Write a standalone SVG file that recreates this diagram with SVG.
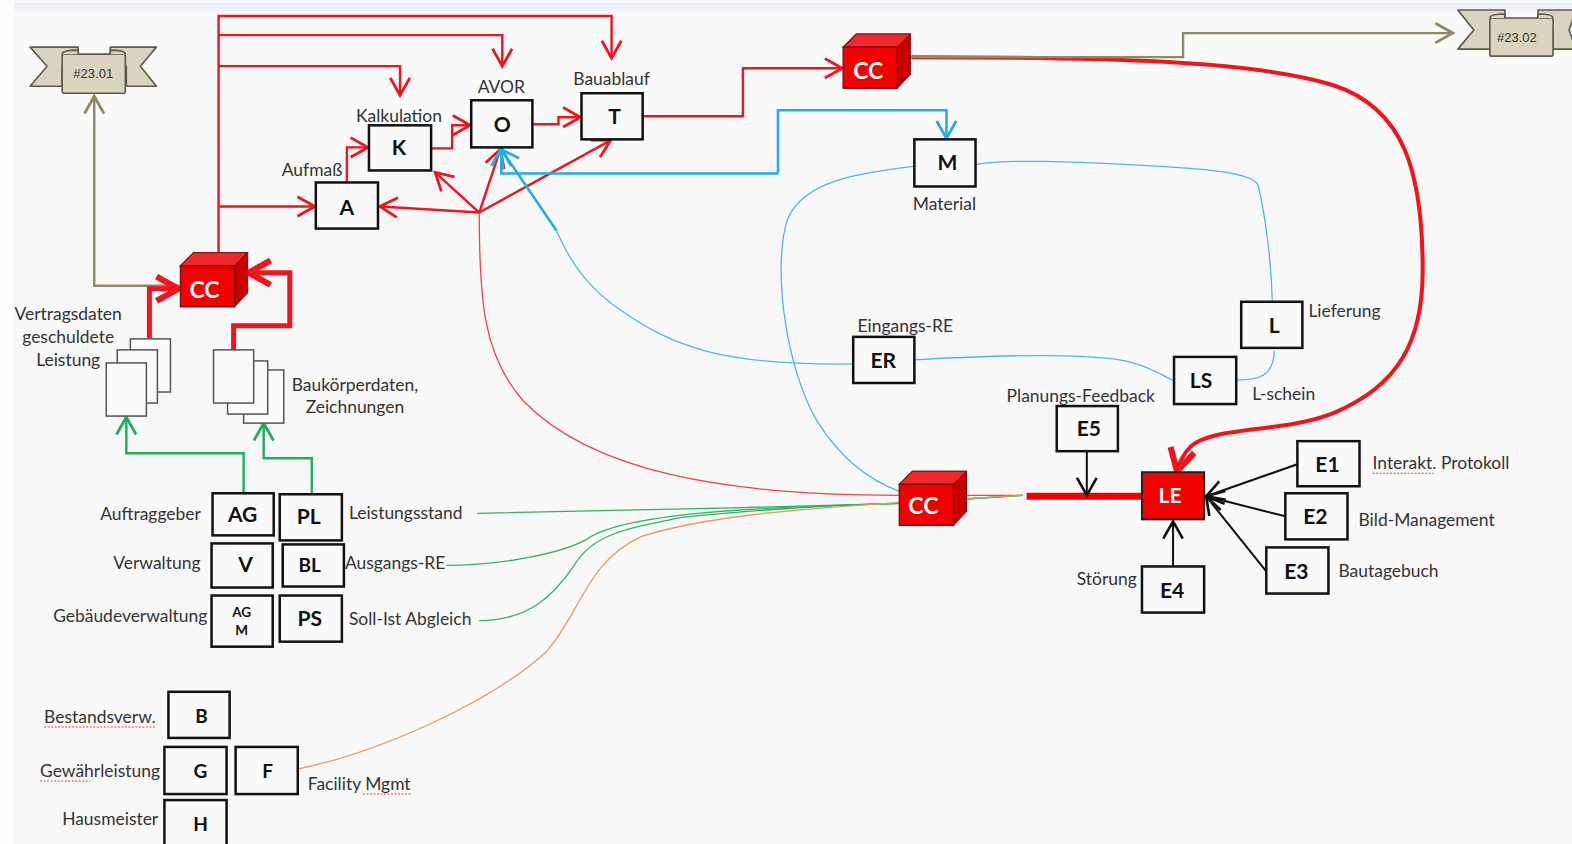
<svg xmlns="http://www.w3.org/2000/svg" width="1572" height="844" viewBox="0 0 1572 844">
<style>
.box{fill:#fafafa;stroke:#111;stroke-width:2.5}
.b{font:700 21px Lato,"Liberation Sans",sans-serif;fill:#111;text-anchor:middle}
.t{font:17.4px Lato,"Liberation Sans",sans-serif;fill:#333}
.m{text-anchor:middle}
.w{font:700 23px Lato,"Liberation Sans",sans-serif;fill:#fff;text-anchor:middle}
.r{fill:none;stroke:#f0141c;stroke-width:2.4}
.bl{fill:none;stroke:#22aee6;stroke-width:2.6}
.thin{fill:none;stroke-width:1.3}
.ol{fill:none;stroke:#8f8a62;stroke-width:2.4}
.gr{fill:none;stroke:#1fae5a;stroke-width:2.4}
.k{fill:none;stroke:#111;stroke-width:2}
.page{fill:#fbfbfb;stroke:#555;stroke-width:1.5}
.rib{fill:#d9d4bd;stroke:#5d5a4c;stroke-width:1.6;stroke-linejoin:round}
.rt{font:13px "Liberation Sans",sans-serif;fill:#333;text-anchor:middle}
</style>
<defs>
<linearGradient id="band" x1="0" y1="0" x2="0" y2="1"><stop offset="0" stop-color="#e9edf6"/><stop offset="1" stop-color="#fbfbfc"/></linearGradient>
<marker id="ar" markerUnits="userSpaceOnUse" markerWidth="26" markerHeight="26" refX="20" refY="10" orient="auto" viewBox="0 0 24 20"><path d="M4 1L20 10L4 19" fill="none" stroke="#f0141c" stroke-width="2.6"/></marker>
<marker id="arT" markerUnits="userSpaceOnUse" markerWidth="34" markerHeight="34" refX="22" refY="12" orient="auto" viewBox="0 0 28 24"><path d="M4 2L22 12L4 22" fill="none" stroke="#f0141c" stroke-width="5"/></marker>
<marker id="ab" markerUnits="userSpaceOnUse" markerWidth="26" markerHeight="26" refX="20" refY="10" orient="auto" viewBox="0 0 24 20"><path d="M4 1L20 10L4 19" fill="none" stroke="#22aee6" stroke-width="2.6"/></marker>
<marker id="ao" markerUnits="userSpaceOnUse" markerWidth="26" markerHeight="26" refX="20" refY="10" orient="auto" viewBox="0 0 24 20"><path d="M4 1L20 10L4 19" fill="none" stroke="#8f8a62" stroke-width="2.6"/></marker>
<marker id="ag" markerUnits="userSpaceOnUse" markerWidth="26" markerHeight="26" refX="20" refY="10" orient="auto" viewBox="0 0 24 20"><path d="M4 1L20 10L4 19" fill="none" stroke="#1fae5a" stroke-width="2.6"/></marker>
<marker id="ak" markerUnits="userSpaceOnUse" markerWidth="26" markerHeight="26" refX="20" refY="10" orient="auto" viewBox="0 0 24 20"><path d="M4 1L20 10L4 19" fill="none" stroke="#111" stroke-width="2.4"/></marker>
<g id="cube"><path d="M0 13L13 0H67V40L54 54V13Z" fill="#c80000" stroke="#7a1010"/><path d="M0 13L13 0H67L54 13Z" fill="#f0282c" stroke="#7a1010"/><rect y="13" width="54" height="41" fill="#f20000" stroke="#7a1010" stroke-width="1.4"/></g>
</defs>
<rect width="1572" height="844" fill="#f8f8f8"/>
<rect x="14" y="14" width="1558" height="140" fill="#fafafa"/>
<rect x="14" y="3" width="1558" height="13" fill="url(#band)"/>
<rect width="14" height="844" fill="#fdfdfd"/>
<g transform="scale(1.0026)">
<g id="connectors">
<path class="r" d="M218 252V16H610V58" marker-end="url(#ar)"/>
<path class="r" d="M218 35H501V66" marker-end="url(#ar)"/>
<path class="r" d="M218 66H399V95" marker-end="url(#ar)"/>
<path class="r" d="M218 206H314" marker-end="url(#ar)"/>
<path class="r" d="M346 182V147H367" marker-end="url(#ar)"/>
<path class="r" d="M431 148H451V125H469" marker-end="url(#ar)"/>
<path class="r" d="M532 124H557V117H579" marker-end="url(#ar)"/>
<path class="r" d="M641 116H741V68H840" marker-end="url(#ar)"/>
<path class="r" d="M478 212L379 206" marker-end="url(#ar)"/>
<path class="r" d="M478 212L434 172" marker-end="url(#ar)"/>
<path class="r" d="M478 212L499 149" marker-end="url(#ar)"/>
<path class="r" d="M478 212L609 140" marker-end="url(#ar)"/>
<path class="thin" stroke="#f0434a" d="M478 212C478 300 482 355 522 400C590 470 720 494 897 494H1020"/>
<path fill="none" stroke="#f0141c" stroke-width="4" d="M909 57C1100 57 1250 60 1330 85C1400 108 1419 170 1419 270C1419 340 1395 385 1330 412C1280 432 1210 425 1188 445C1180 453 1176 462 1174 470" marker-end="url(#arT)"/>
<path class="ol" d="M908 57H1180V33H1449" marker-end="url(#ao)"/>
<path class="ol" d="M179 285H94V96" marker-end="url(#ao)"/>
<path fill="none" stroke="#f0141c" stroke-width="5" d="M149 337V288H178" marker-end="url(#arT)"/>
<path fill="none" stroke="#f0141c" stroke-width="5" d="M233 349V325H289V272H248" marker-end="url(#arT)"/>
<path class="bl" d="M776 173V110H944V138" marker-end="url(#ab)"/>
<path class="bl" d="M776 173H500V148" marker-end="url(#ab)"/>
<path class="bl" d="M555 230L500 149" marker-end="url(#ab)"/>
<path class="thin" stroke="#4cb8e6" d="M555 230C570 265 590 290 620 310C670 345 720 365 851 363"/>
<path class="thin" stroke="#4cb8e6" d="M912 359C980 355 1060 352 1110 358C1140 362 1155 372 1171 380"/>
<path class="thin" stroke="#4cb8e6" d="M1233 379C1255 379 1270 376 1271 350"/>
<path class="thin" stroke="#4cb8e6" d="M1269 301C1268 260 1262 215 1255 185C1250 172 1200 168 1140 165C1080 162 1010 158 974 164"/>
<path class="thin" stroke="#4cb8e6" d="M911 166C860 172 800 180 785 220C770 270 785 370 815 420C840 460 870 480 897 490"/>
<path class="gr" d="M243 492V452H126V416" marker-end="url(#ag)"/>
<path class="gr" d="M311 493V457H263V422" marker-end="url(#ag)"/>
<path class="thin" stroke="#2fb368" stroke-width="1.4" d="M476 512C600 510 760 506 897 502L1020 494"/>
<path class="thin" stroke="#2fb368" stroke-width="1.4" d="M445 564C500 564 560 552 585 538C620 512 750 506 897 502L1020 494"/>
<path class="thin" stroke="#2fb368" stroke-width="1.4" d="M478 619C530 619 555 590 572 565C590 534 620 528 680 516C770 506 850 504 897 502L1020 494"/>
<path class="thin" stroke="#e79a5e" stroke-width="1.4" d="M297 767C380 750 490 700 545 650C580 610 585 560 640 535C720 510 840 506 897 501L1020 494"/>
<path fill="none" stroke="#f00000" stroke-width="7" d="M1024 495H1139"/>
<path class="k" d="M1084 450V494" marker-end="url(#ak)"/>
<path class="k" d="M1170 565V520" marker-end="url(#ak)"/>
<path class="k" d="M1294 463L1203 495" marker-end="url(#ak)"/>
<path class="k" d="M1282 515L1203 495" marker-end="url(#ak)"/>
<path class="k" d="M1263 570L1203 495" marker-end="url(#ak)"/>
</g>

<g id="ribbon1"><path class="rib" d="M30 47H78V66H62V86H30L47 66ZM156 47H110V66H126V86H156L140 66Z"/><rect class="rib" x="62" y="54" width="63" height="39" rx="2"/><path class="rib" d="M62 54Q62 50 78 50V54M125 54Q125 50 110 50V54"/><text class="rt" x="93" y="78">#23.01</text></g>
<g id="ribbon2"><path class="rib" d="M1454 10H1501V30H1486V49H1454L1470 30ZM1572 10H1534V30H1549V49H1572L1565 30Z"/><rect class="rib" x="1486" y="18" width="63" height="38" rx="2"/><path class="rib" d="M1486 18Q1486 14 1501 14V18M1549 18Q1549 14 1534 14V18"/><text class="rt" x="1513" y="42">#23.02</text></g>

<g id="cc1"><use href="#cube" x="180" y="252"/><text class="w" x="204" y="297">CC</text></g>
<g id="cc2"><use href="#cube" x="841" y="34"/><text class="w" x="866" y="79">CC</text></g>
<g id="cc3"><use href="#cube" x="897" y="470"/><text class="w" x="921" y="513">CC</text></g>

<g id="n-A"><rect class="box" x="315" y="182" width="62" height="46"/><text class="b" x="346" y="214">A</text><text class="t" x="281" y="176">Aufmaß</text></g>
<g id="n-K"><rect class="box" x="368" y="125" width="62" height="45"/><text class="b" x="398" y="155">K</text><text class="t m" x="398" y="122">Kalkulation</text></g>
<g id="n-O"><rect class="box" x="470" y="100" width="61" height="47"/><text class="b" x="501" y="132">O</text><text class="t m" x="500" y="93">AVOR</text></g>
<g id="n-T"><rect class="box" x="580" y="93" width="61" height="46"/><text class="b" x="613" y="124">T</text><text class="t m" x="610" y="85">Bauablauf</text></g>
<g id="n-M"><rect class="box" x="912" y="139" width="61" height="47"/><text class="b" x="945" y="170">M</text><text class="t m" x="942" y="209">Material</text></g>
<g id="n-L"><rect class="box" x="1238" y="301" width="61" height="46"/><text class="b" x="1271" y="332">L</text><text class="t" x="1305" y="316">Lieferung</text></g>
<g id="n-LS"><rect class="box" x="1171" y="356" width="62" height="47"/><text class="b" x="1198" y="387">LS</text><text class="t" x="1249" y="399">L-schein</text></g>
<g id="n-ER"><rect class="box" x="851" y="336" width="61" height="46"/><text class="b" x="881" y="367">ER</text><text class="t m" x="903" y="331">Eingangs-RE</text></g>
<g id="n-E5"><rect class="box" x="1054" y="405" width="61" height="45"/><text class="b" x="1086" y="435">E5</text><text class="t m" x="1078" y="401">Planungs-Feedback</text></g>
<g id="n-LE"><rect x="1139" y="471" width="62" height="47" fill="#f20000" stroke="#222" stroke-width="2"/><text class="b" x="1167" y="502" style="fill:#fff">LE</text></g>
<g id="n-E1"><rect class="box" x="1294" y="440" width="62" height="45"/><text class="b" x="1324" y="471">E1</text><text class="t" x="1369" y="468">Interakt. Protokoll</text></g>
<g id="n-E2"><rect class="box" x="1282" y="492" width="62" height="46"/><text class="b" x="1312" y="523">E2</text><text class="t" x="1355" y="525">Bild-Management</text></g>
<g id="n-E3"><rect class="box" x="1263" y="546" width="62" height="46"/><text class="b" x="1293" y="577">E3</text><text class="t" x="1335" y="576">Bautagebuch</text></g>
<g id="n-E4"><rect class="box" x="1139" y="565" width="62" height="46"/><text class="b" x="1169" y="596">E4</text><text class="t" x="1074" y="583">Störung</text></g>
<g id="n-AG"><rect class="box" x="212" y="492" width="61" height="42"/><text class="b" x="242" y="521">AG</text><text class="t" x="100" y="519">Auftraggeber</text></g>
<g id="n-PL"><rect class="box" x="279" y="493" width="62" height="46"/><text class="b" x="308" y="523">PL</text><text class="t" x="348" y="518">Leistungsstand</text></g>
<g id="n-V"><rect class="box" x="211" y="542" width="61" height="44"/><text class="b" x="245" y="571">V</text><text class="t" x="113" y="568">Verwaltung</text></g>
<g id="n-BL"><rect class="box" x="282" y="543" width="61" height="42"/><text class="b" x="309" y="571" style="font-size:19px">BL</text><text class="t" x="344" y="568">Ausgangs-RE</text></g>
<g id="n-AGM"><rect class="box" x="211" y="594" width="61" height="51"/><text class="b" x="241" y="615" style="font-size:13.5px">AG</text><text class="b" x="241" y="633" style="font-size:13.5px">M</text><text class="t" x="53" y="620">Gebäudeverwaltung</text></g>
<g id="n-PS"><rect class="box" x="279" y="594" width="62" height="46"/><text class="b" x="309" y="624">PS</text><text class="t" x="348" y="623">Soll-Ist Abgleich</text></g>
<g id="n-B"><rect class="box" x="168" y="690" width="61" height="46"/><text class="b" x="201" y="721" style="font-size:19px">B</text><text class="t" x="44" y="721">Bestandsverw.</text></g>
<g id="n-G"><rect class="box" x="164" y="745" width="62" height="47"/><text class="b" x="200" y="776" style="font-size:19px">G</text><text class="t" x="40" y="775">Gewährleistung</text></g>
<g id="n-F"><rect class="box" x="235" y="745" width="62" height="47"/><text class="b" x="267" y="776" style="font-size:19px">F</text><text class="t" x="307" y="788">Facility Mgmt</text></g>
<g id="n-H"><rect class="box" x="164" y="798" width="62" height="46"/><text class="b" x="200" y="829" style="font-size:19px">H</text><text class="t" x="62" y="823">Hausmeister</text></g>

<g id="docs1"><rect class="page" x="130" y="338" width="40" height="53"/><rect class="page" x="117" y="349" width="40" height="53"/><rect class="page" x="106" y="362" width="40" height="53"/><text class="t m" x="68" y="319">Vertragsdaten</text><text class="t m" x="68" y="342">geschuldete</text><text class="t m" x="68" y="365">Leistung</text></g>
<g id="docs2"><rect class="page" x="243" y="369" width="40" height="53"/><rect class="page" x="227" y="360" width="40" height="53"/><rect class="page" x="213" y="349" width="40" height="53"/><text class="t m" x="354" y="390">Baukörperdaten,</text><text class="t m" x="354" y="412">Zeichnungen</text></g>
<g id="squiggles" fill="none" stroke="#e0433c" stroke-width="1" stroke-dasharray="2 1.5"><path d="M1369 472H1430M44 725H156M40 779H90M362 792H410"/></g>
</g>
</svg>
